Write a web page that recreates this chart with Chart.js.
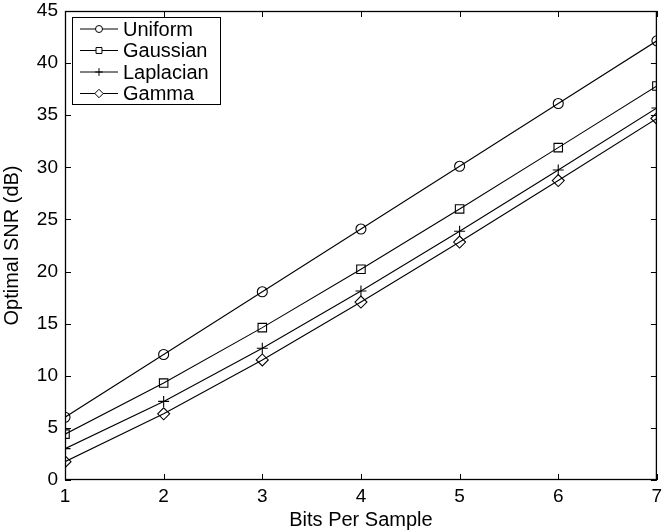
<!DOCTYPE html>
<html>
<head>
<meta charset="utf-8">
<script src="https://cdn.jsdelivr.net/npm/chart.js@4"></script>
<style>
  html, body { margin: 0; padding: 0; background: #fff; }
  #wrap { width: 664px; height: 532px; }
</style>
</head>
<body>
<div id="wrap"><canvas id="snrChart" width="664" height="532"></canvas></div>
<script>
const bits = [1, 2, 3, 4, 5, 6, 7];
const uniform = [6.02, 12.04, 18.06, 24.08, 30.10, 36.12, 42.14];
const gaussian = [4.40, 9.30, 14.62, 20.22, 26.01, 31.89, 37.81];
const laplacian = [3.01, 7.54, 12.64, 18.13, 23.87, 29.74, 35.69];
const gamma = [1.76, 6.35, 11.52, 17.07, 22.83, 28.73, 34.69];
const yTicks = [0, 5, 10, 15, 20, 25, 30, 35, 40, 45];

const FONT = '"Liberation Sans", Arial, sans-serif';

const series = [
  { label: 'Uniform', data: uniform, style: 'circle', r: 5 },
  { label: 'Gaussian', data: gaussian, style: 'rect', r: 6 },
  { label: 'Laplacian', data: laplacian, style: 'cross', r: 5.5 },
  { label: 'Gamma', data: gamma, style: 'rectRot', r: 6 }
];

// frame + inward ticks on all four sides, like the original plot
const framePlugin = {
  id: 'frame',
  afterDatasetsDraw(chart) {
    const { ctx, chartArea: a, scales: { x, y } } = chart;
    ctx.save();
    ctx.strokeStyle = '#000';
    ctx.lineWidth = 1.3;
    ctx.strokeRect(a.left + 0.5, a.top + 0.5, a.right - a.left - 1, a.bottom - a.top - 1);
    ctx.lineWidth = 1;
    ctx.beginPath();
    bits.forEach(v => {
      const px = Math.round(x.getPixelForValue(v)) + 0.5;
      ctx.moveTo(px, a.bottom); ctx.lineTo(px, a.bottom - 6);
      ctx.moveTo(px, a.top); ctx.lineTo(px, a.top + 6);
    });
    yTicks.forEach(v => {
      const py = Math.round(y.getPixelForValue(v)) + 0.5;
      ctx.moveTo(a.left, py); ctx.lineTo(a.left + 6, py);
      ctx.moveTo(a.right, py); ctx.lineTo(a.right - 6, py);
    });
    ctx.stroke();
    ctx.restore();
  },
  afterDraw(chart) {
    // legend box in the upper left of the plot
    const { ctx, chartArea: a } = chart;
    const bx = a.left + 7, by = a.top + 6, bw = 148, bh = 87;
    ctx.save();
    ctx.fillStyle = '#fff';
    ctx.fillRect(bx, by, bw, bh);
    ctx.strokeStyle = '#000';
    ctx.lineWidth = 1;
    ctx.strokeRect(bx + 0.5, by + 0.5, bw, bh);
    ctx.textBaseline = 'middle';
    series.forEach((s, i) => {
      const ly = by + 12 + i * 21.5;
      ctx.beginPath();
      ctx.moveTo(bx + 8, ly); ctx.lineTo(bx + 46, ly);
      ctx.stroke();
      ctx.fillStyle = '#fff';
      Chart.helpers.drawPoint(ctx, { pointStyle: s.style, radius: s.r * 0.7, rotation: 0, borderWidth: 1 }, bx + 27, ly);
      ctx.fillStyle = '#000';
      ctx.font = '20px ' + FONT;
      ctx.fillText(s.label, bx + 51, ly + 1);
    });
    ctx.restore();
  }
};

new Chart(document.getElementById('snrChart'), {
  type: 'line',
  data: {
    labels: bits,
    datasets: series.map(s => ({
      label: s.label,
      data: s.data.map((v, i) => ({ x: bits[i], y: v })),
      borderColor: '#000',
      borderWidth: 1.1,
      pointStyle: s.style,
      pointRadius: s.r,
      pointBorderColor: '#000',
      pointBackgroundColor: 'rgba(0,0,0,0)',
      pointBorderWidth: 1.1,
      fill: false,
      tension: 0
    }))
  },
  options: {
    responsive: false,
    animation: false,
    layout: { padding: { top: 11, right: 3, left: 0, bottom: 0 } },
    plugins: {
      legend: { display: false },
      tooltip: { enabled: false }
    },
    scales: {
      x: {
        type: 'linear',
        min: 1,
        max: 7,
        afterBuildTicks: (scale) => { scale.ticks = bits.map(v => ({ value: v })); },
        grid: { display: false, drawTicks: false },
        border: { display: false },
        ticks: { color: '#000', font: { family: FONT, size: 19 }, padding: 5, maxRotation: 0 },
        title: { display: true, text: 'Bits Per Sample', color: '#000', font: { family: FONT, size: 20 }, padding: { top: 0, bottom: 0 } },
        afterFit: (scale) => { scale.height = 52; scale.paddingLeft = 0; scale.paddingRight = 0; }
      },
      y: {
        min: 0,
        max: 45,
        afterBuildTicks: (scale) => { scale.ticks = yTicks.map(v => ({ value: v })); },
        grid: { display: false, drawTicks: false },
        border: { display: false },
        ticks: { color: '#000', font: { family: FONT, size: 19 }, padding: 7 },
        title: { display: true, text: 'Optimal SNR (dB)', color: '#000', font: { family: FONT, size: 20 }, padding: { top: 0, bottom: 2 } },
        afterFit: (scale) => { scale.width = 65; scale.paddingTop = 0; scale.paddingBottom = 0; }
      }
    }
  },
  plugins: [framePlugin]
});
</script>
</body>
</html>
